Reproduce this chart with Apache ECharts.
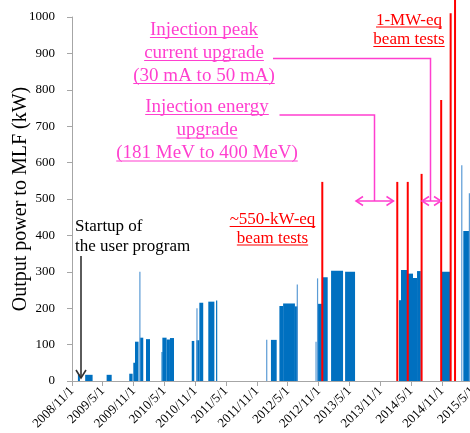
<!DOCTYPE html>
<html><head><meta charset="utf-8">
<script src="https://cdn.jsdelivr.net/npm/echarts@6/dist/echarts.min.js"></script>
<style>html,body{margin:0;padding:0;overflow:hidden;background:#fff}#c{width:480px;height:433px}</style>
</head><body><div id="c"></div><script>
// ---- data ----
const axisStart = '2008/11/1';
const axisEnd = '2015/5/1';
const tickLabels = ['2008/11/1','2009/5/1','2009/11/1','2010/5/1','2010/11/1','2011/5/1','2011/11/1','2012/5/1','2012/11/1','2013/5/1','2013/11/1','2014/5/1','2014/11/1','2015/5/1'];
const yTicks = [0,100,200,300,400,500,600,700,800,900,1000];

// operation periods (dark blue blocks)
const runStart = ['2008/12/6','2009/1/18','2009/5/25','2009/10/6','2009/10/30','2009/11/9','2009/12/8','2010/1/13','2010/4/15','2010/4/20','2010/5/15','2010/6/4','2010/10/11','2010/11/7','2010/11/25','2011/1/17','2011/3/4','2012/1/23','2012/3/13','2012/4/4','2012/6/13','2012/10/22','2012/11/20','2013/1/13','2013/4/6','2014/2/19','2014/3/3','2014/4/11','2014/5/13','2014/6/6','2014/10/30','2015/3/7'];
const runEnd   = ['2008/12/18','2009/3/3','2009/6/24','2009/10/26','2009/11/9','2009/11/30','2009/12/28','2010/2/6','2010/4/17','2010/5/15','2010/6/4','2010/6/28','2010/10/26','2010/11/25','2010/12/18','2011/2/22','2011/3/11','2012/2/26','2012/4/4','2012/6/13','2012/7/1','2012/11/20','2012/12/24','2013/3/25','2013/6/4','2014/3/3','2014/4/11','2014/5/13','2014/6/6','2014/6/28','2014/12/23','2015/4/30'];
const runValue = [18,17,17,20,50,108,119,115,80,119,114,118,110,112,215,218,221,113,206,213,205,212,285,303,300,222,305,295,283,302,300,412];

// short peaks (light blue thin lines)
const spikeDate  = ['2009/12/8','2010/11/11','2011/12/29','2012/6/27','2012/10/16','2012/10/25','2015/2/26','2015/4/12'];
const spikeValue = [300,200,113,265,108,282,593,516];

// high-power beam tests (red lines)
const testDate  = ['2012/11/22','2014/2/9','2014/4/12','2014/7/3','2014/10/27','2014/12/22','2015/1/17'];
const testValue = [547,547,547,569,772,1010,1060];

// ---- helpers ----
const T0 = Date.UTC(2008,10,1);
function dayOf(s){const p=s.split('/').map(Number);return (Date.UTC(p[0],p[1]-1,p[2])-T0)/864e5;}
function labelOf(d){const t=new Date(T0+Math.round(d)*864e5);return t.getUTCFullYear()+'/'+(t.getUTCMonth()+1)+'/'+t.getUTCDate();}

const FONT = 'Liberation Serif';
const tickDays = tickLabels.map(dayOf);
const runData = runStart.map((s,i)=>[dayOf(s),dayOf(runEnd[i]),runValue[i]]);
const spikeData = spikeDate.map((s,i)=>[dayOf(s),spikeValue[i]]);
const testData = testDate.map((s,i)=>[dayOf(s),testValue[i]]);

function lineItem(w,color){
  return function(params,api){
    const x=api.value(0), v=api.value(1);
    const p0=api.coord([x,0]), p1=api.coord([x,v]);
    return {type:'rect',shape:{x:p0[0]-w/2,y:p1[1],width:w,height:p0[1]-p1[1]},style:{fill:color}};
  };
}

const mctx = document.createElement('canvas').getContext('2d');
function measure(t,size){mctx.font=size+'px "'+FONT+'"';return mctx.measureText(t).width;}

const graphics=[];
function addBlock(lines,cx,ys,size,color,underline,align){
  lines.forEach((t,i)=>{
    graphics.push({type:'text',x:cx,y:ys[i],z:100,style:{text:t,fontSize:size,fontFamily:FONT,fill:color,align:align||'center',verticalAlign:'middle'}});
    if(underline){
      const w=measure(t,size);
      const x1 = align==='left'?cx:cx-w/2;
      graphics.push({type:'line',z:100,shape:{x1:x1,y1:ys[i]+underline,x2:x1+w,y2:ys[i]+underline},style:{stroke:color,lineWidth:1.2}});
    }
  });
}
const MAG='#ff3fcf', RED='#ff0000';
addBlock(['Injection peak','current upgrade','(30 mA to 50 mA)'],204,[30,53,76],19,MAG,7.5);
addBlock(['Injection energy','upgrade','(181 MeV to 400 MeV)'],207,[107,130.5,153.5],19,MAG,7.5);
addBlock(['~550-kW-eq','beam tests'],272.5,[220,238.5],17,RED,6.5);
addBlock(['1-MW-eq','beam tests'],409,[20.5,40],17,RED,6.5);
addBlock(['Startup of','the user program'],75,[226.5,247],17,'#000',0,'left');

function pl(points,color,w){graphics.push({type:'polyline',z:101,shape:{points:points},style:{stroke:color,lineWidth:w,fill:null}});}
function dblArrow(x1,x2,y,color){
  pl([[x1,y],[x2,y]],color,1.5);
  pl([[x1+7,y-4.5],[x1,y],[x1+7,y+4.5]],color,1.5);
  pl([[x2-7,y-4.5],[x2,y],[x2-7,y+4.5]],color,1.5);
}
pl([[273,58.5],[430.5,58.5],[430.5,201]],MAG,1.5);
dblArrow(422,441,201,MAG);
pl([[279.5,115],[374.5,115],[374.5,201]],MAG,1.5);
dblArrow(356,393.5,201,MAG);
// startup arrow
pl([[81,256],[81,378]],'#333',1.6);
pl([[76,370],[81,378],[86,370]],'#333',1.6);

const chart = echarts.init(document.getElementById('c'),null,{renderer:'canvas'});
chart.setOption({
  animation:false,
  backgroundColor:'#fff',
  textStyle:{fontFamily:FONT},
  grid:{left:72,top:17,width:400.6,height:364,containLabel:false,outerBoundsMode:'none'},
  xAxis:{type:'value',min:dayOf(axisStart),max:dayOf(axisEnd),
    splitLine:{show:false},
    axisLine:{show:true,lineStyle:{color:'#a6a6a6',width:1}},
    axisTick:{show:true,inside:false,length:5,lineStyle:{color:'#a6a6a6'},customValues:tickDays},
    axisLabel:{customValues:tickDays,rotate:45,margin:8,color:'#000',fontSize:13,fontFamily:FONT,formatter:v=>labelOf(v),showMaxLabel:true,showMinLabel:true}
  },
  yAxis:{type:'value',min:0,max:1000,interval:100,
    name:'Output power to MLF (kW)',nameLocation:'middle',nameGap:41,nameMoveOverlap:false,
    nameTextStyle:{fontSize:20,fontFamily:FONT,color:'#000'},
    splitLine:{show:false},
    axisLine:{show:true,lineStyle:{color:'#a6a6a6',width:1}},
    axisTick:{show:true,length:5,lineStyle:{color:'#a6a6a6'}},
    axisLabel:{margin:17,color:'#000',fontSize:13,fontFamily:FONT,formatter:function(v){return yTicks.indexOf(v)>=0?String(v):'';}}
  },
  series:[
    {type:'custom',name:'operation',data:runData,encode:{x:[0,1],y:2},
      renderItem:function(params,api){
        const s=api.value(0),e=api.value(1),v=api.value(2);
        const p0=api.coord([s,0]),p1=api.coord([e,v]);
        return {type:'rect',shape:{x:p0[0],y:p1[1],width:Math.max(p1[0]-p0[0],1),height:p0[1]-p1[1]},style:{fill:'#0070c0'}};
      }},
    {type:'custom',name:'peaks',data:spikeData,encode:{x:0,y:1},renderItem:lineItem(1.2,'#5b9bd5')},
    {type:'custom',name:'tests',data:testData,encode:{x:0,y:1},clip:false,z:5,renderItem:lineItem(2,RED)}
  ],
  graphic:graphics
});
</script></body></html>
